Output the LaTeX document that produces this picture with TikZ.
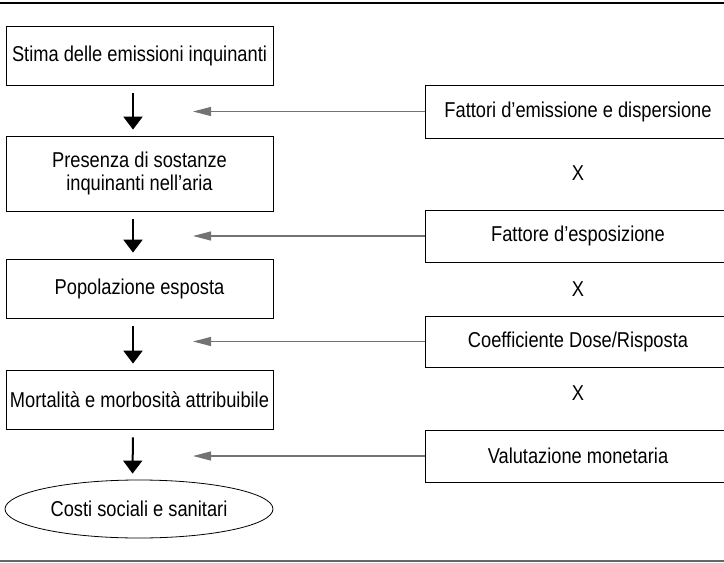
\documentclass[tikz,border=0pt]{standalone}
\usepackage{fontspec}
\setmainfont{Liberation Sans}[FakeStretch=0.85]
\usetikzlibrary{arrows.meta,shapes.geometric}

\begin{document}
\begin{tikzpicture}[x=1pt,y=-1pt,
    testo/.style={font=\fontsize{21.5}{23}\selectfont},
    passo/.style={testo,draw,line width=0.8pt,minimum width=267pt,inner sep=0pt,align=center},
    fattore/.style={testo,draw,line width=0.8pt,minimum width=306pt,minimum height=52pt,inner sep=0pt},
    flusso/.style={line width=2pt,shorten <=8pt,shorten >=6pt,-{Triangle[width=19pt,length=13pt]}},
    apporto/.style={draw=black!55,line width=1.1pt,-{Triangle[width=9pt,length=18pt]}}]
            \useasboundingbox (0,0) rectangle (724,563);
            % Righe
            \draw[line width=1.2pt] (0,3) -- (724,3);
            \draw[line width=1.2pt,black!60] (0,561) -- (724,561);
            % Passi
            \node[passo,minimum height=59pt] (b1) at (139.5,55.5) {Stima delle emissioni inquinanti};
            \node[passo,minimum height=75pt] (b2) at (139.5,173.5) {Presenza di sostanze\\inquinanti nell’aria};
            \node[passo,minimum height=59pt] (b3) at (139.5,288.5) {Popolazione esposta};
            \node[passo,minimum height=59pt] (b4) at (139.5,399.5) {Mortalità e morbosità attribuibile};
            \node[testo,draw,line width=0.8pt,ellipse,minimum width=268pt,minimum height=58pt,inner sep=0pt] (costi) at (139,509) {Costi sociali e sanitari};
            % Fattori
            \node[fattore,minimum height=53pt] (r1) at (578,111.5) {Fattori d’emissione e dispersione};
            \node[fattore] (r2) at (578,236) {Fattore d’esposizione};
            \node[fattore,minimum height=51pt] (r3) at (578,341.5) {Coefficiente Dose/Risposta};
            \node[fattore] (r4) at (578,456) {Valutazione monetaria};
            \node[testo] (x1) at (578,173) {X};
            \node[testo] (x2) at (578,289) {X};
            \node[testo] (x3) at (578,393) {X};
            % Frecce
            \foreach \a/\b in {b1/b2,b2/b3,b3/b4,b4/costi}
                \draw[flusso] ([xshift=-6.5pt]\a.south) -- ([xshift=-6.5pt]\b.north);
            \coordinate (punta) at (193,0);
            \foreach \r in {r1,r2,r3,r4}
                \draw[apporto] (\r.west) -- (\r.west -| punta);
        \end{tikzpicture}
\end{document}
